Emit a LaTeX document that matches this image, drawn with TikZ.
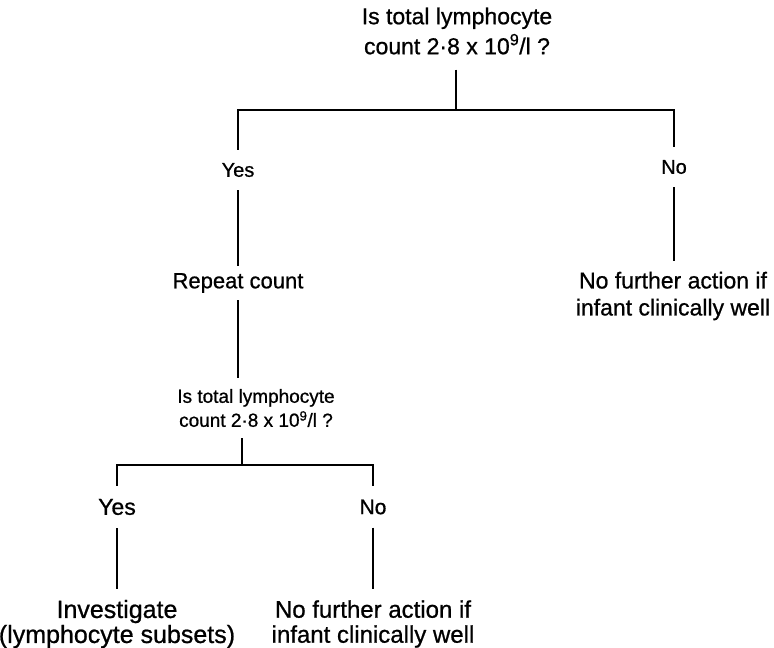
\documentclass[tikz,border=0pt]{standalone}
\usepackage{fontspec}
\setmainfont[FakeBold=0.8]{Liberation Sans}
\tikzset{
	txt/.style={align=center, inner xsep=0pt, inner ysep=13pt},
	link/.style={line width=1.2pt},
}
\newcommand{\countq}{count 2·8 x 10\textsuperscript{9}/l ?}

\begin{document}
\begin{tikzpicture}[x=1pt,y=-1pt]
	\useasboundingbox (0,0) rectangle (774,648);
	% first count
	\node[txt,font=\fontsize{23}{30}\selectfont,inner ysep=15pt] (qone) at (457,31) {Is total lymphocyte\\\countq};
	\coordinate (jone) at (456,110);
	\node[txt,font=\fontsize{20}{24}\selectfont] (yesone) at (238,170) {Yes};
	\node[txt,font=\fontsize{20}{24}\selectfont] (noone) at (674,167) {No};
	\node[txt,font=\fontsize{22}{26}\selectfont,inner ysep=7pt] (rep) at (238,283) {Repeat count};
	\node[txt,font=\fontsize{23}{27}\selectfont,inner ysep=11pt] (nfone) at (673,296) {No further action if\\infant clinically well};
	% second count
	\node[txt,font=\fontsize{19}{24}\selectfont,inner ysep=11pt] (qtwo) at (256,408) {Is total lymphocyte\\\countq};
	\coordinate (jtwo) at (242,465);
	\node[txt,font=\fontsize{23}{24}\selectfont] (yestwo) at (117,507) {Yes};
	\node[txt,font=\fontsize{21}{24}\selectfont] (notwo) at (373,507) {No};
	\node[txt,font=\fontsize{25}{25}\selectfont,inner ysep=11pt] (inv) at (117,624) {Investigate\\(lymphocyte subsets)};
	\node[txt,font=\fontsize{24}{25}\selectfont,inner ysep=11pt] (nftwo) at (373,624) {No further action if\\infant clinically well};
	% connectors
	\draw[link] (qone.south -| jone) -- (jone);
	\draw[link] (yesone) |- (jone) -| (noone);
	\draw[link] (yesone) -- (rep);
	\draw[link] (noone) -- (nfone.north -| noone);
	\draw[link] (rep) -- (rep |- qtwo.north);
	\draw[link] (qtwo.south -| jtwo) -- (jtwo);
	\draw[link] (yestwo) |- (jtwo) -| (notwo);
	\draw[link] (yestwo) -- (inv);
	\draw[link] (notwo) -- (nftwo);
\end{tikzpicture}
\end{document}
